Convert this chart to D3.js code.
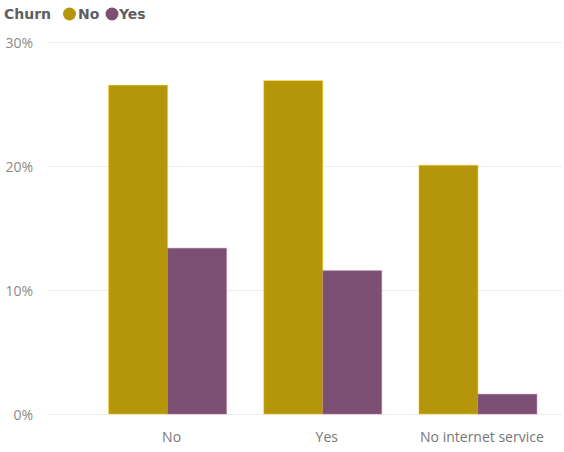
<!DOCTYPE html>
<html>
<head>
<meta charset="utf-8">
<script src="https://cdn.jsdelivr.net/npm/d3@7"></script>
<style>
  html, body { margin: 0; padding: 0; background: #fff; }
  svg { display: block; font-family: "Segoe UI", "Open Sans", "Noto Sans", sans-serif; }
</style>
</head>
<body>
<svg id="chart" width="564" height="452"></svg>
<script>
// Streaming TV subscription vs. churn, share of all customers
const categories = ["No", "Yes", "No internet service"];
const seriesNames = ["No", "Yes"];
const churnNo = [26.52, 26.88, 20.06];
const churnYes = [13.37, 11.56, 1.60];
const yTicks = [0, 10, 20, 30];
const colors = ["#B59509", "#7D4F73"];

const rows = categories.map((c, i) => ({ category: c, values: [churnNo[i], churnYes[i]] }));

const svg = d3.select("#chart");
const margin = { top: 42, bottom: 414, left: 47, right: 562 };

const y = d3.scaleLinear().domain([0, 30]).range([margin.bottom, margin.top]);

const x0 = d3.scaleBand()
  .domain(categories)
  .range([90, 555.5])
  .paddingInner(0.24)
  .paddingOuter(0.12);

const x1 = d3.scaleBand()
  .domain(seriesNames)
  .range([0, x0.bandwidth()]);

// gridlines
svg.append("g")
  .selectAll("line")
  .data(yTicks)
  .join("line")
  .attr("x1", margin.left)
  .attr("x2", margin.right)
  .attr("y1", d => Math.round(y(d)) + 0.5)
  .attr("y2", d => Math.round(y(d)) + 0.5)
  .attr("stroke", "#ececec")
  .attr("stroke-width", 1);

// y axis labels
const yAxis = d3.axisLeft(y).tickValues(yTicks).tickFormat(d => d + "%").tickSize(0).tickPadding(0);
const gy = svg.append("g").attr("transform", "translate(33,1)").call(yAxis);
gy.select(".domain").remove();
gy.selectAll("text")
  .attr("fill", "#8a8a8a")
  .style("font-size", "14px")
  .style("font-family", "'Segoe UI', 'Open Sans', 'Noto Sans', sans-serif");

// bars
const groups = svg.append("g")
  .selectAll("g")
  .data(rows)
  .join("g")
  .attr("transform", d => `translate(${x0(d.category)},0)`);

groups.selectAll("rect")
  .data(d => d.values.map((v, i) => ({ key: seriesNames[i], value: v, idx: i })))
  .join("rect")
  .attr("x", d => x1(d.key))
  .attr("width", x1.bandwidth())
  .attr("y", d => y(d.value))
  .attr("height", d => y(0) - y(d.value))
  .attr("fill", d => colors[d.idx])
  .attr("stroke", d => d3.color(colors[d.idx]).brighter(0.9))
  .attr("stroke-opacity", 0.45)
  .attr("stroke-width", 1);

// x axis labels
const xAxis = d3.axisBottom(x0).tickSize(0).tickPadding(0);
const gx = svg.append("g").attr("transform", "translate(4,432)").call(xAxis);
gx.select(".domain").remove();
gx.selectAll("text")
  .attr("fill", "#777")
  .style("font-size", "14px")
  .style("font-family", "'Segoe UI', 'Open Sans', 'Noto Sans', sans-serif");

// legend
const legendFont = "'DejaVu Sans', sans-serif";
const legend = svg.append("g").attr("transform", "translate(4,19)");
legend.append("text")
  .attr("x", 0).attr("y", 0)
  .text("Churn")
  .attr("fill", "#5f5f5f")
  .style("font-family", legendFont)
  .style("font-size", "14px")
  .style("font-weight", "bold");

const items = [{ name: seriesNames[0], cx: 65.5, tx: 74 }, { name: seriesNames[1], cx: 108, tx: 115 }];
items.forEach((it, i) => {
  legend.append("circle")
    .attr("cx", it.cx).attr("cy", -5).attr("r", 6.5)
    .attr("fill", colors[i]);
  legend.append("text")
    .attr("x", it.tx).attr("y", 0)
    .text(it.name)
    .attr("fill", "#5f5f5f")
    .style("font-family", legendFont)
    .style("font-size", "14px")
    .style("font-weight", "bold");
});
</script>
</body>
</html>
